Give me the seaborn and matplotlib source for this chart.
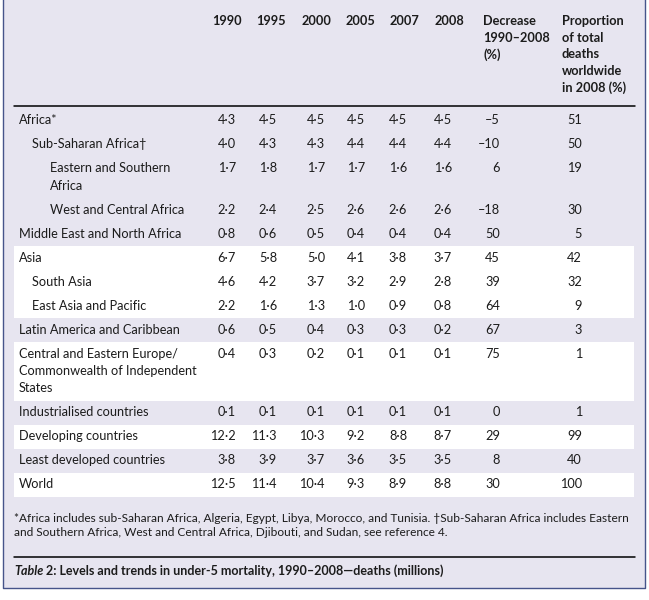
import matplotlib.pyplot as plt
import seaborn as sns

# table content
regions = ["Africa*", "Sub-Saharan Africa†", "Eastern and Southern\nAfrica",
           "West and Central Africa", "Middle East and North Africa", "Asia",
           "South Asia", "East Asia and Pacific", "Latin America and Caribbean",
           "Central and Eastern Europe/\nCommonwealth of Independent\nStates",
           "Industrialised countries", "Developing countries",
           "Least developed countries", "World"]
indent = [0, 1, 2, 2, 0, 0, 1, 1, 0, 0, 0, 0, 0, 0]
shaded = [1, 1, 1, 1, 1, 0, 0, 0, 1, 0, 1, 0, 1, 0]
years = ["1990", "1995", "2000", "2005", "2007", "2008"]
d1990 = [4.3, 4.0, 1.7, 2.2, 0.8, 6.7, 4.6, 2.2, 0.6, 0.4, 0.1, 12.2, 3.8, 12.5]
d1995 = [4.5, 4.3, 1.8, 2.4, 0.6, 5.8, 4.2, 1.6, 0.5, 0.3, 0.1, 11.3, 3.9, 11.4]
d2000 = [4.5, 4.3, 1.7, 2.5, 0.5, 5.0, 3.7, 1.3, 0.4, 0.2, 0.1, 10.3, 3.7, 10.4]
d2005 = [4.5, 4.4, 1.7, 2.6, 0.4, 4.1, 3.2, 1.0, 0.3, 0.1, 0.1, 9.2, 3.6, 9.3]
d2007 = [4.5, 4.4, 1.6, 2.6, 0.4, 3.8, 2.9, 0.9, 0.3, 0.1, 0.1, 8.8, 3.5, 8.9]
d2008 = [4.5, 4.4, 1.6, 2.6, 0.4, 3.7, 2.8, 0.8, 0.2, 0.1, 0.1, 8.7, 3.5, 8.8]
decrease = [-5, -10, 6, -18, 50, 45, 39, 64, 67, 75, 0, 29, 8, 30]
proportion = [51, 50, 19, 30, 5, 42, 32, 9, 3, 1, 1, 99, 40, 100]
dec_header = ["Decrease", "1990–2008", "(%)"]
prop_header = ["Proportion", "of total", "deaths", "worldwide", "in 2008 (%)"]
footnote = ["*Africa includes sub-Saharan Africa, Algeria, Egypt, Libya, Morocco, and Tunisia. "
            "†Sub-Saharan Africa includes Eastern",
            "and Southern Africa, West and Central Africa, Djibouti, and Sudan, see reference 4."]
caption_lead = "Table"
caption = " 2: Levels and trends in under-5 mortality, 1990–2008—deaths (millions)"

sns.set_theme(style="white")
plt.rcParams['font.family'] = ['Lato', 'DejaVu Sans']

BG = "#e7e5f0"
INK = "#1c1c1c"
FS = 9.2

fig = plt.figure(figsize=(6.49, 6.0), dpi=100)
ax = fig.add_axes([0, 0, 1, 1])
ax.set_xlim(0, 649)
ax.set_ylim(600, 0)
ax.axis('off')

# panel background and border
ax.fill_between([2.5, 644.5], -5, 587.5, color=BG, lw=0, zorder=0)
ax.plot([2.5, 2.5, 644.5, 644.5], [-5, 587.5, 587.5, -5], color="#46548a", lw=1.0, zorder=5)

# header
year_x = [242, 286, 331, 375, 419, 464]
for yr, x in zip(years, year_x):
    ax.text(x, 21, yr, ha='right', va='center', fontsize=FS, fontweight='bold', color=INK)
for i, s in enumerate(dec_header):
    ax.text(483, 21 + 16.6 * i, s, ha='left', va='center', fontsize=FS, fontweight='bold', color=INK)
for i, s in enumerate(prop_header):
    ax.text(562, 21 + 16.6 * i, s, ha='left', va='center', fontsize=FS, fontweight='bold', color=INK)
ax.plot([14, 635], [106, 106], color='black', lw=1.1)

# body
cols = [d1990, d1995, d2000, d2005, d2007, d2008]
col_x = [236, 277, 325, 365, 407, 452]
indent_x = [19, 32, 50]
top = 108
for i, name in enumerate(regions):
    lines = name.split("\n")
    h = 24 + (len(lines) - 1) * 17.5
    if not shaded[i]:
        ax.fill_between([14, 634], top, top + h, color='white', lw=0, zorder=1)
    y0 = top + 12
    for j, ln in enumerate(lines):
        ax.text(indent_x[indent[i]], y0 + 17.5 * j, ln, ha='left', va='center',
                fontsize=FS, color=INK, zorder=3)
    for vals, x in zip(cols, col_x):
        ax.text(x, y0, f"{vals[i]:.1f}".replace(".", "·"), ha='right', va='center',
                fontsize=FS, color=INK, zorder=3)
    ax.text(500, y0, str(decrease[i]).replace("-", "–"), ha='right', va='center',
            fontsize=FS, color=INK, zorder=3)
    ax.text(582, y0, str(proportion[i]), ha='right', va='center',
            fontsize=FS, color=INK, zorder=3)
    top += h

# footnote and caption
for i, s in enumerate(footnote):
    ax.text(14, 518 + 15 * i, s, ha='left', va='center', fontsize=8.6, color=INK)
ax.plot([14, 635], [557, 557], color='black', lw=1.1)
t1 = ax.text(14, 571, caption_lead, ha='left', va='center', fontsize=9.0,
             fontweight='bold', fontstyle='italic', color=INK)
ax.annotate(caption, xy=(1, 0.5), xycoords=t1, ha='left', va='center',
            fontsize=9.0, fontweight='bold', color=INK)

fig.savefig("out.png", dpi=100)
